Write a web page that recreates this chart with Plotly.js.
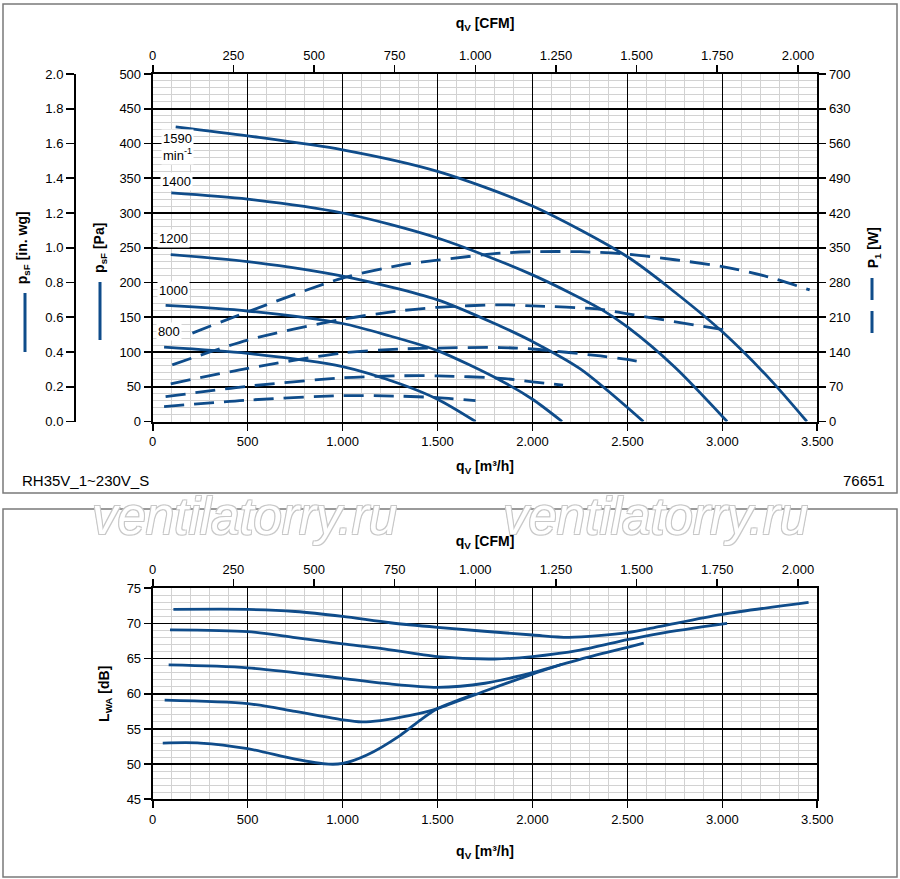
<!DOCTYPE html>
<html>
<head>
<meta charset="utf-8">
<script src="https://cdn.plot.ly/plotly-3.0.1.min.js"></script>
<style>
  html, body { margin: 0; padding: 0; background: #fff; }
  #chart { width: 900px; height: 879px; }
</style>
</head>
<body>
<div id="chart"></div>
<script>
// ---------- DATA ----------
const speeds = ['1590', '1400', '1200', '1000', '800'];

// Static pressure p_sF [Pa] vs flow q_V [m3/h]
const qP1590 = [121, 500, 1000, 1500, 2000, 2500, 2750, 3000, 3250, 3445];
const pP1590 = [424, 411, 391, 360, 310, 237, 186, 129, 61, 0];
const qP1400 = [98, 500, 1000, 1500, 2000, 2358, 2500, 2750, 3025];
const pP1400 = [329, 320, 300, 264, 211, 162, 136, 78, 0];
const qP1200 = [95, 500, 1000, 1500, 1832, 2000, 2250, 2584];
const pP1200 = [240, 230, 209, 175, 137, 115, 76, 0];
const qP1000 = [68, 500, 1000, 1250, 1500, 1832, 2000, 2156];
const pP1000 = [167, 159, 141, 123, 102, 59, 32, 0];
const qP800  = [60, 500, 1000, 1305, 1500, 1700];
const pP800  = [107, 98, 79, 54, 32, 0];

// Power input P_1 [W] vs flow q_V [m3/h]
const qW1590 = [209, 500, 1000, 1305, 1500, 1832, 2000, 2250, 2500, 3000, 3235, 3460];
const wW1590 = [178, 221, 289, 315, 325, 339, 342, 342, 337, 312, 292, 265];
const qW1400 = [103, 500, 1000, 1305, 1500, 1832, 2000, 2358, 2500, 3033];
const wW1400 = [114, 164, 206, 223, 230, 235, 233, 226, 217, 183];
const qW1200 = [95, 500, 1000, 1305, 1500, 1832, 2000, 2358, 2500, 2586];
const wW1200 = [76, 107, 138, 146, 148, 149, 146, 132, 125, 119];
const qW1000 = [68, 500, 1000, 1305, 1500, 1832, 2000, 2161];
const wW1000 = [50, 71, 88, 92, 92, 87, 80, 73];
const qW800  = [60, 500, 1000, 1305, 1500, 1700];
const wW800  = [30, 43, 52, 51, 48, 42];

// Sound power L_WA [dB] vs flow q_V [m3/h]
const qL1590 = [109, 500, 750, 1000, 1250, 1500, 2000, 2193, 2500, 2674, 3000, 3454];
const lL1590 = [72.0, 72.0, 71.7, 71.0, 70.1, 69.45, 68.36, 68.03, 68.7, 69.6, 71.3, 73.0];
const qL1400 = [91, 500, 750, 1000, 1200, 1500, 1800, 2000, 2250, 2500, 2674, 3025];
const lL1400 = [69.1, 68.85, 68.0, 67.1, 66.47, 65.28, 64.95, 65.28, 66.2, 67.7, 68.6, 70.0];
const qL1200 = [84, 500, 1000, 1250, 1500, 1750, 2000, 2250, 2500, 2586];
const lL1200 = [64.1, 63.7, 62.2, 61.4, 60.92, 61.5, 63.0, 64.9, 66.6, 67.2];
const qL1000 = [63, 500, 750, 1000, 1100, 1200, 1350, 1500, 1750, 2000, 2156];
const lL1000 = [59.1, 58.6, 57.5, 56.3, 56.0, 56.2, 56.9, 57.9, 60.4, 62.8, 64.2];
const qL800  = [53, 250, 500, 750, 926, 1000, 1128, 1304, 1411, 1500, 1600, 1700];
const lL800  = [53.0, 53.0, 52.2, 50.7, 50.0, 50.1, 51.3, 54.1, 56.3, 57.9, 59.0, 60.0];

// Axis tick labels
const inwgVals = [0, 0.2, 0.4, 0.6, 0.8, 1.0, 1.2, 1.4, 1.6, 1.8, 2.0];
const inwgText = ['0.0', '0.2', '0.4', '0.6', '0.8', '1.0', '1.2', '1.4', '1.6', '1.8', '2.0'];
const M3H_PER_CFM = 1.69901;

// ---------- STYLE ----------
const BLUE = '#0f4c8a';
const FONT = 'Liberation Sans, Arial, Helvetica, sans-serif';
const W = 900, H = 879;
const px = v => v / W;
const py = v => 1 - v / H;

function curve(q, v, xa, ya, dashed) {
  return {
    type: 'scatter', mode: 'lines', x: q, y: v, xaxis: xa, yaxis: ya,
    line: { color: BLUE, width: 2.8, shape: 'spline', smoothing: 0.8, dash: dashed ? '20px,10px' : 'solid' },
    hoverinfo: 'skip', showlegend: false
  };
}

const traces = [
  curve(qP1590, pP1590, 'x', 'y'),
  curve(qP1400, pP1400, 'x', 'y'),
  curve(qP1200, pP1200, 'x', 'y'),
  curve(qP1000, pP1000, 'x', 'y'),
  curve(qP800, pP800, 'x', 'y'),
  curve(qW1590, wW1590, 'x', 'y2', true),
  curve(qW1400, wW1400, 'x', 'y2', true),
  curve(qW1200, wW1200, 'x', 'y2', true),
  curve(qW1000, wW1000, 'x', 'y2', true),
  curve(qW800, wW800, 'x', 'y2', true),
  curve(qL1590, lL1590, 'x3', 'y4'),
  curve(qL1400, lL1400, 'x3', 'y4'),
  curve(qL1200, lL1200, 'x3', 'y4'),
  curve(qL1000, lL1000, 'x3', 'y4'),
  curve(qL800, lL800, 'x3', 'y4'),
  // empty traces so that the secondary axes get registered
  { type: 'scatter', x: [], y: [], xaxis: 'x2', yaxis: 'y', showlegend: false, hoverinfo: 'skip' },
  { type: 'scatter', x: [], y: [], xaxis: 'x', yaxis: 'y3', showlegend: false, hoverinfo: 'skip' },
  { type: 'scatter', x: [], y: [], xaxis: 'x4', yaxis: 'y4', showlegend: false, hoverinfo: 'skip' }
];

const tickFont = { family: FONT, size: 13, color: '#000' };
const titleFont = { family: FONT, size: 14, color: '#000' };
const xDomain = [px(152.7), px(817.3)];
const topDomain = [py(421.5), py(74)];
const botDomain = [py(799.3), py(588.3)];

const majorGrid = { showgrid: true, gridcolor: '#000', gridwidth: 1.6 };
const axisLine = { showline: true, linecolor: '#000', linewidth: 2, zeroline: false,
  ticks: 'outside', ticklen: 7, tickwidth: 1.6, tickcolor: '#000', tickfont: tickFont };
const minorGrid = (t0, d) => ({ tickmode: 'linear', tick0: t0, dtick: d, showgrid: true,
  gridcolor: '#d2d2d2', gridwidth: 1, ticks: '' });

const layout = {
  width: W, height: H,
  margin: { l: 0, r: 0, t: 0, b: 0, pad: 0 },
  paper_bgcolor: '#fff', plot_bgcolor: '#fff',
  separators: ',.',
  showlegend: false,
  xaxis: Object.assign({}, axisLine, majorGrid, {
    domain: xDomain, anchor: 'y', range: [0, 3500], tickmode: 'linear', tick0: 0, dtick: 500,
    tickformat: ',d', minor: minorGrid(0, 100),
    title: { text: '<b>q<sub>V</sub> [m³/h]</b>', font: titleFont, standoff: 13 }
  }),
  xaxis2: Object.assign({}, axisLine, {
    overlaying: 'x', side: 'top', anchor: 'y', range: [0, 3500 / M3H_PER_CFM],
    tickmode: 'linear', tick0: 0, dtick: 250, tickformat: ',d', showgrid: false,
    title: { text: '<b>q<sub>V</sub> [CFM]</b>', font: titleFont, standoff: 16 }
  }),
  yaxis: Object.assign({}, axisLine, majorGrid, {
    domain: topDomain, anchor: 'x', range: [0, 500], tickmode: 'linear', tick0: 0, dtick: 50,
    minor: minorGrid(0, 10),
    title: { text: '<b>p<sub>sF</sub> [Pa]</b>', font: titleFont, standoff: 11 }
  }),
  yaxis2: Object.assign({}, axisLine, {
    overlaying: 'y', side: 'right', anchor: 'x', range: [0, 700], tickmode: 'linear', tick0: 0, dtick: 70,
    showgrid: false,
    title: { text: '<b>P<sub>1</sub> [W]</b>', font: titleFont, standoff: 19 }
  }),
  yaxis3: Object.assign({}, axisLine, {
    overlaying: 'y', side: 'left', anchor: 'free', position: px(75), range: [0, 2.0],
    tickmode: 'array', tickvals: inwgVals, ticktext: inwgText, showgrid: false, ticklen: 8,
    title: { text: '<b>p<sub>sF</sub> [in. wg]</b>', font: titleFont, standoff: 13 }
  }),
  xaxis3: Object.assign({}, axisLine, majorGrid, {
    domain: xDomain, anchor: 'y4', range: [0, 3500], tickmode: 'linear', tick0: 0, dtick: 500,
    tickformat: ',d', minor: minorGrid(0, 100),
    title: { text: '<b>q<sub>V</sub> [m³/h]</b>', font: titleFont, standoff: 20 }
  }),
  xaxis4: Object.assign({}, axisLine, {
    overlaying: 'x3', side: 'top', anchor: 'y4', range: [0, 3500 / M3H_PER_CFM],
    tickmode: 'linear', tick0: 0, dtick: 250, tickformat: ',d', showgrid: false,
    title: { text: '<b>q<sub>V</sub> [CFM]</b>', font: titleFont, standoff: 12 }
  }),
  yaxis4: Object.assign({}, axisLine, majorGrid, {
    domain: botDomain, anchor: 'x3', range: [45, 75], tickmode: 'linear', tick0: 45, dtick: 5,
    mirror: true, minor: minorGrid(45, 1),
    title: { text: '<b>L<sub>WA</sub> [dB]</b>', font: titleFont, standoff: 14 }
  }),
  shapes: [
    // panel frames
    { type: 'rect', xref: 'paper', yref: 'paper', x0: px(3), x1: px(897), y0: py(493), y1: py(4),
      line: { color: '#7a7a7a', width: 1.5 }, layer: 'below' },
    { type: 'rect', xref: 'paper', yref: 'paper', x0: px(3), x1: px(897), y0: py(877), y1: py(509),
      line: { color: '#7a7a7a', width: 1.5 }, layer: 'below' },
    // line-style keys beside the axis titles
    { type: 'line', xref: 'paper', yref: 'paper', x0: px(25), x1: px(25), y0: py(352), y1: py(293),
      line: { color: BLUE, width: 3 } },
    { type: 'line', xref: 'paper', yref: 'paper', x0: px(100), x1: px(100), y0: py(340), y1: py(282),
      line: { color: BLUE, width: 3 } },
    { type: 'line', xref: 'paper', yref: 'paper', x0: px(872), x1: px(872), y0: py(278), y1: py(341),
      line: { color: BLUE, width: 3, dash: '22px,11px' } }
  ],
  annotations: [
    { xref: 'paper', yref: 'paper', x: px(20), y: py(480), xanchor: 'left', yanchor: 'middle',
      text: 'RH35V_1~230V_S', showarrow: false, font: { family: FONT, size: 15, color: '#000' } },
    { xref: 'paper', yref: 'paper', x: px(887), y: py(480), xanchor: 'right', yanchor: 'middle',
      text: '76651', showarrow: false, font: { family: FONT, size: 15, color: '#000' } },
    { xref: 'paper', yref: 'paper', x: px(245), y: py(516), xanchor: 'center', yanchor: 'middle',
      text: 'ventilatorry.ru', showarrow: false,
      font: { family: FONT, size: 51, style: 'italic', color: '#ffffff',
        shadow: '-1px -1px 0 #c8c8c8, 1px -1px 0 #c8c8c8, -1px 1px 0 #c8c8c8, 1px 1px 0 #c8c8c8' } },
    { xref: 'paper', yref: 'paper', x: px(655), y: py(516), xanchor: 'center', yanchor: 'middle',
      text: 'ventilatorry.ru', showarrow: false,
      font: { family: FONT, size: 51, style: 'italic', color: '#ffffff',
        shadow: '-1px -1px 0 #c8c8c8, 1px -1px 0 #c8c8c8, -1px 1px 0 #c8c8c8, 1px 1px 0 #c8c8c8' } },
    // speed labels
    { xref: 'x', yref: 'y', x: 133, y: 395, text: speeds[0] + '<br>min<sup>-1</sup>', showarrow: false,
      bgcolor: '#fff', borderpad: 1, font: { family: FONT, size: 13, color: '#000' } },
    { xref: 'x', yref: 'y', x: 123, y: 346, text: speeds[1], showarrow: false,
      bgcolor: '#fff', borderpad: 1, font: { family: FONT, size: 13, color: '#000' } },
    { xref: 'x', yref: 'y', x: 109, y: 263, text: speeds[2], showarrow: false,
      bgcolor: '#fff', borderpad: 1, font: { family: FONT, size: 13, color: '#000' } },
    { xref: 'x', yref: 'y', x: 109, y: 188, text: speeds[3], showarrow: false,
      bgcolor: '#fff', borderpad: 1, font: { family: FONT, size: 13, color: '#000' } },
    { xref: 'x', yref: 'y', x: 86, y: 129, text: speeds[4], showarrow: false,
      bgcolor: '#fff', borderpad: 1, font: { family: FONT, size: 13, color: '#000' } }
  ]
};

Plotly.newPlot('chart', traces, layout, { displayModeBar: false, staticPlot: true });
</script>
</body>
</html>
